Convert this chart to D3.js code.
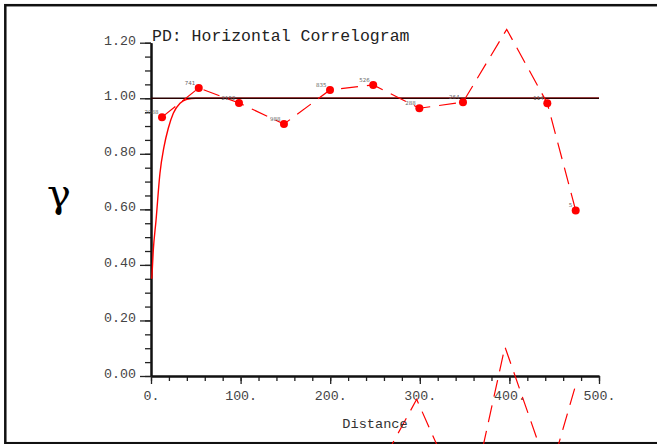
<!DOCTYPE html>
<html>
<head>
<meta charset="utf-8">
<script src="https://cdn.jsdelivr.net/npm/d3@7"></script>
<style>
  html, body { margin: 0; padding: 0; background: #fff; }
  svg { display: block; }
</style>
</head>
<body>
<svg id="chart" width="657" height="444"></svg>
<script>
// ---- data ----
const titleText = "PD: Horizontal Correlogram";
const xLabel = "Distance";
const yLabel = "γ";

// experimental correlogram points (distance, gamma)
const expX = [12.3, 53.3, 98.2, 148.4, 199.8, 248.0, 299.5, 348.2, 397.0, 442.3, 474.0];
const expY = [0.932, 1.037, 0.983, 0.907, 1.030, 1.048, 0.964, 0.986, 1.248, 0.982, 0.596];
// pair counts shown next to the markers (null = no marker)
const expPairs = ["2088", "741", "2152", "988", "835", "526", "288", "264", null, "114", "5"];

// second dashed trace running below the axis
const lowX = [248.0, 296.5, 353.8, 395.0, 444.9, 474.3];
const lowY = [-0.37, -0.084, -0.50, 0.105, -0.357, -0.029];

// fitted model curve points
const modelX = [0.9, 2.5, 5.6, 10.0, 14.5, 19.3, 24.9, 32.4, 40.0, 50.0, 500.0];
const modelY = [0.35, 0.45, 0.56, 0.73, 0.825, 0.892, 0.946, 0.982, 0.996, 1.0, 1.0];

// sill reference line
const sillValue = 1.0;

// axis ticks
const xMajorTicks = [0, 100, 200, 300, 400, 500];
const xMinorTicks = [0, 20, 40, 60, 80, 100, 120, 140, 160, 180, 200, 220, 240, 260, 280, 300, 320, 340, 360, 380, 400, 420, 440, 460, 480, 500];
const yMajorTicks = [0, 0.2, 0.4, 0.6, 0.8, 1.0, 1.2];
const yMinorTicks = [0, 0.05, 0.1, 0.15, 0.2, 0.25, 0.3, 0.35, 0.4, 0.45, 0.5, 0.55, 0.6, 0.65, 0.7, 0.75, 0.8, 0.85, 0.9, 0.95, 1.0, 1.05, 1.1, 1.15, 1.2];

// ---- drawing ----
const svg = d3.select("#chart");
const mono = "'Liberation Mono', 'Courier New', 'DejaVu Sans Mono', monospace";

const x = d3.scaleLinear().domain([0, 500]).range([151, 599]);
const y = d3.scaleLinear().domain([0, 1.2]).range([376, 42.7]);

// frame
svg.append("rect")
  .attr("x", 5.3).attr("y", 5.2)
  .attr("width", 720).attr("height", 438)
  .attr("fill", "none").attr("stroke", "#111").attr("stroke-width", 2.5);

// minor ticks
const yMinor = svg.append("g").attr("transform", `translate(${x(0)},0)`)
  .call(d3.axisLeft(y).tickValues(yMinorTicks).tickSize(6).tickSizeOuter(0).tickFormat(""));
const xMinor = svg.append("g").attr("transform", `translate(0,${y(0)})`)
  .call(d3.axisBottom(x).tickValues(xMinorTicks).tickSize(5).tickSizeOuter(0).tickFormat(""));

// major ticks with labels
const yMajor = svg.append("g").attr("transform", `translate(${x(0)},0)`)
  .call(d3.axisLeft(y).tickValues(yMajorTicks).tickSize(11).tickSizeOuter(0).tickPadding(4)
    .tickFormat(d3.format(".2f")));
const xMajor = svg.append("g").attr("transform", `translate(0,${y(0)})`)
  .call(d3.axisBottom(x).tickValues(xMajorTicks).tickSize(8).tickSizeOuter(0).tickPadding(6.5)
    .tickFormat(d => d + "."));

[yMinor, xMinor, yMajor, xMajor].forEach(g => {
  g.selectAll("path.domain").attr("stroke", "#111").attr("stroke-width", 2);
  g.selectAll(".tick line").attr("stroke", "#222").attr("stroke-width", 1.3);
  g.selectAll("text").attr("fill", "#444").style("font-family", mono).style("font-size", "13.3px");
});
yMajor.selectAll("text").attr("dy", "0.1em");

// model curve
const modelData = modelX.map((d, i) => [d, modelY[i]]);
svg.append("path")
  .datum(modelData)
  .attr("fill", "none").attr("stroke", "#ff0000").attr("stroke-width", 1.4)
  .attr("d", d3.line().x(d => x(d[0])).y(d => y(d[1])).curve(d3.curveMonotoneX));

// sill line
svg.append("line")
  .attr("x1", x(0)).attr("x2", x(500))
  .attr("y1", y(sillValue)).attr("y2", y(sillValue))
  .attr("stroke", "#2a0000").attr("stroke-width", 1.4);

// lower dashed trace
const lowData = lowX.map((d, i) => [d, lowY[i]]);
svg.append("path")
  .datum(lowData)
  .attr("fill", "none").attr("stroke", "#ff0000").attr("stroke-width", 1.2)
  .attr("stroke-dasharray", "17,9")
  .attr("d", d3.line().x(d => x(d[0])).y(d => y(d[1])));

// experimental dashed trace
const expData = expX.map((d, i) => ({ x: d, y: expY[i], n: expPairs[i] }));
svg.append("path")
  .datum(expData)
  .attr("fill", "none").attr("stroke", "#ff0000").attr("stroke-width", 1.2)
  .attr("stroke-dasharray", "17,9")
  .attr("d", d3.line().x(d => x(d.x)).y(d => y(d.y)));

const marked = expData.filter(d => d.n !== null);
svg.append("g").selectAll("circle")
  .data(marked).join("circle")
  .attr("cx", d => x(d.x)).attr("cy", d => y(d.y)).attr("r", 4)
  .attr("fill", "#ff0000");

svg.append("g").selectAll("text")
  .data(marked).join("text")
  .attr("x", d => x(d.x) - 3.5).attr("y", d => y(d.y) - 3)
  .attr("text-anchor", "end")
  .attr("fill", "#666")
  .style("font-family", "'DejaVu Sans', sans-serif").style("font-size", "5.5px")
  .text(d => d.n);

// title
svg.append("text")
  .attr("x", 152).attr("y", 40.5)
  .attr("fill", "#222")
  .style("font-family", mono).style("font-size", "16.5px")
  .text(titleText);

// x axis label
svg.append("text")
  .attr("x", (x(0) + x(500)) / 2).attr("y", 428)
  .attr("text-anchor", "middle").attr("fill", "#333")
  .style("font-family", mono).style("font-size", "13.6px")
  .text(xLabel);

// y axis label
svg.append("text")
  .attr("x", 59).attr("y", 207)
  .attr("text-anchor", "middle").attr("fill", "#000")
  .style("font-family", "'DejaVu Serif', 'Liberation Serif', serif").style("font-size", "40px")
  .text(yLabel);
</script>
</body>
</html>
